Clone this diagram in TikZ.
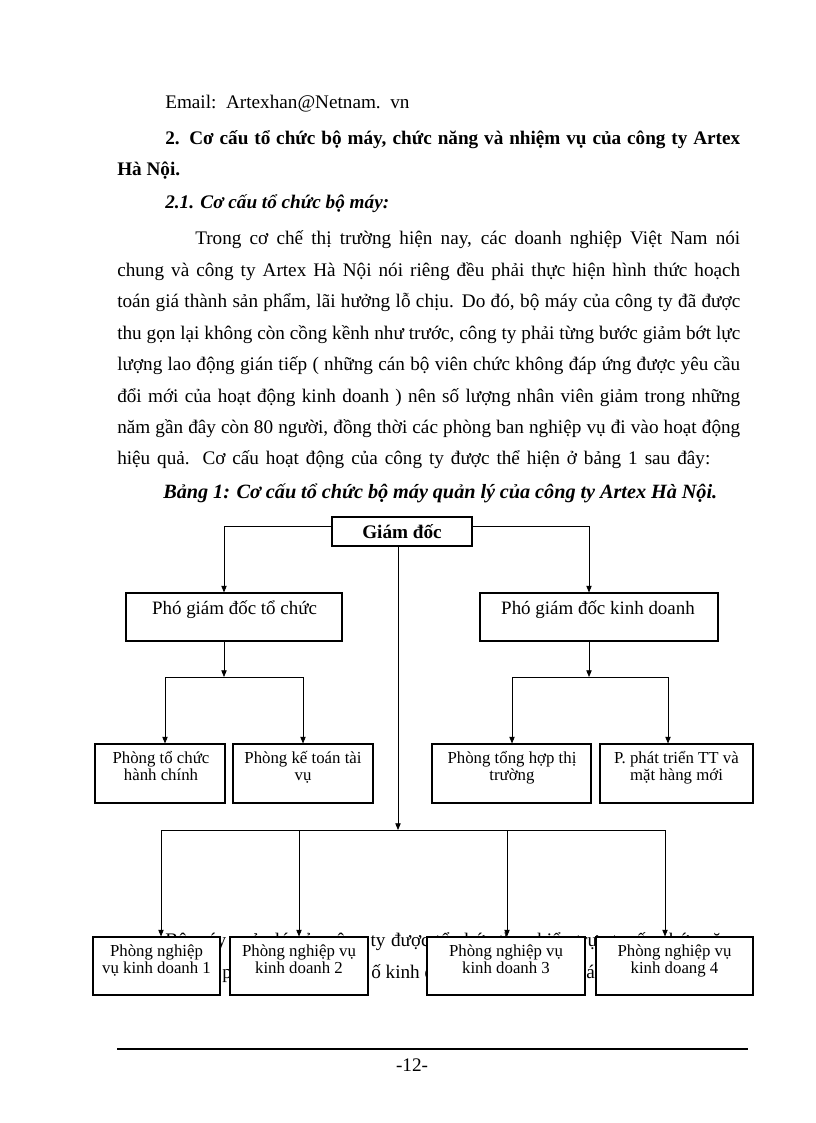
\documentclass[tikz,border=0pt]{standalone}
\usepackage{fontspec}
\setmainfont{Liberation Serif}
\usetikzlibrary{arrows.meta}
\newcommand{\bodyf}{\fontsize{14.4}{17}\selectfont}
\newcommand{\capf}{\fontsize{15.2}{17}\selectfont}
\newcommand{\boxf}{\fontsize{14.2}{15}\selectfont}
\newcommand{\smf}{\fontsize{12.6}{13}\selectfont}
\newcommand{\jl}[2]{\makebox[\dimexpr #1pt*3/4\relax][s]{#2}}
\begin{document}
\begin{tikzpicture}[x=0.75pt,y=-0.75pt,
  txt/.style={inner sep=0pt, anchor=base west, font=\bodyf},
  box/.style={draw, fill=white, line width=0.8pt, inner sep=0pt},
  ln/.style={line width=0.6pt},
  arr/.style={line width=0.6pt, -{Triangle[length=5pt,width=4pt]}},
  btxt/.style={inner sep=0pt, anchor=base, font=\boxf},
  sl/.style={inner sep=0pt, anchor=base, font=\smf}]
\useasboundingbox (0,0) rectangle (816,1123);
\fill[white] (0,0) rectangle (816,1123);

% ---- text ----
\node[txt] (t0) at (165,109) {Email:\ \ Artexhan@Netnam.\ \ vn};
\node[txt] (t1) at (165,145) {\bfseries\jl{575}{2. Cơ cấu tổ chức bộ máy, chức năng và nhiệm vụ của công ty Artex}};
\node[txt] (t2) at (117,176) {\bfseries Hà Nội.};
\node[txt] (t3) at (165,209) {\bfseries\itshape 2.1. Cơ cấu tổ chức bộ máy:};
\node[txt] (p1) at (195,244) {\jl{545}{Trong cơ chế thị trường hiện nay, các doanh nghiệp Việt Nam nói}};
\node[txt] (p2) at (117,276) {\jl{623}{chung và công ty Artex Hà Nội nói riêng đều phải thực hiện hình thức hoạch}};
\node[txt] (p3) at (117,307) {\jl{623}{toán giá thành sản phẩm, lãi hưởng lỗ chịu. Do đó, bộ máy của công ty đã được}};
\node[txt] (p4) at (117,339) {\jl{623}{thu gọn lại không còn cồng kềnh như trước, công ty phải từng bước giảm bớt lực}};
\node[txt] (p5) at (117,370) {\jl{623}{lượng lao động gián tiếp ( những cán bộ viên chức không đáp ứng được yêu cầu}};
\node[txt] (p6) at (117,402) {\jl{623}{đổi mới của hoạt động kinh doanh ) nên số lượng nhân viên giảm trong những}};
\node[txt] (p7) at (117,433) {\jl{623}{năm gần đây còn 80 người, đồng thời các phòng ban nghiệp vụ đi vào hoạt động}};
\node[txt] (p8) at (117,464) {\jl{593}{hiệu quả. Cơ cấu hoạt động của công ty được thể hiện ở bảng 1 sau đây:}};
\node[txt, font=\capf] (cap) at (163,498) {\bfseries\itshape\jl{554}{Bảng 1: Cơ cấu tổ chức bộ máy quản lý của công ty Artex Hà Nội.}};

% hidden text behind bottom boxes
\node[txt] (h1) at (165,946) {\jl{575}{Bộ máy quản lý của công ty được tổ chức theo kiểu trực tuyến chức năng}};
\node[txt] (h2) at (222,978) {p};
\node[txt] (h3) at (371,978) {ố kinh d};
\node[txt] (h4) at (586,978) {á};

% ---- boxes ----
\node[box, minimum width=140*0.75pt, minimum height=29*0.75pt, font=\bodyf\bfseries] (gd) at (402,531.5) {Giám đốc};

\node[box, minimum width=216*0.75pt, minimum height=48*0.75pt] (ptc) at (234,617) {};
\node[btxt] (ptct) at (234.5,614) {Phó giám đốc tổ chức};
\node[box, minimum width=238*0.75pt, minimum height=48*0.75pt] (pkd) at (599,617) {};
\node[btxt] (pkdt) at (598,614) {Phó giám đốc kinh doanh};

\node[box, minimum width=130*0.75pt, minimum height=59*0.75pt] (a1) at (160,773.5) {};
\node[sl] (a1a) at (161,763) {Phòng tổ chức};
\node[sl] (a1b) at (161,780) {hành chính};
\node[box, minimum width=140*0.75pt, minimum height=59*0.75pt] (a2) at (303,773.5) {};
\node[sl] (a2a) at (303,763) {Phòng kế toán tài};
\node[sl] (a2b) at (303,780) {vụ};
\node[box, minimum width=159*0.75pt, minimum height=59*0.75pt] (a3) at (511.5,773.5) {};
\node[sl] (a3a) at (512,763) {Phòng tổng hợp thị};
\node[sl] (a3b) at (512,780) {trường};
\node[box, minimum width=153*0.75pt, minimum height=59*0.75pt] (a4) at (676.5,773.5) {};
\node[sl] (a4a) at (676.5,763) {P. phát triển TT và};
\node[sl] (a4b) at (676.5,780) {mặt hàng mới};

\node[box, minimum width=127*0.75pt, minimum height=58*0.75pt] (b1) at (156.5,966) {};
\node[sl] (b1a) at (156.5,956) {Phòng nghiệp};
\node[sl] (b1b) at (156.5,973) {vụ kinh doanh 1};
\node[box, minimum width=138*0.75pt, minimum height=58*0.75pt] (b2) at (299,966) {};
\node[sl] (b2a) at (299,956) {Phòng nghiệp vụ};
\node[sl] (b2b) at (299,973) {kinh doanh 2};
\node[box, minimum width=158*0.75pt, minimum height=58*0.75pt] (b3) at (506,966) {};
\node[sl] (b3a) at (506,956) {Phòng nghiệp vụ};
\node[sl] (b3b) at (506,973) {kinh doanh 3};
\node[box, minimum width=157*0.75pt, minimum height=58*0.75pt] (b4) at (674.5,966) {};
\node[sl] (b4a) at (674.5,956) {Phòng nghiệp vụ};
\node[sl] (b4b) at (674.5,973) {kinh doang 4};

% ---- connectors ----
\coordinate (gl) at (224,526);
\coordinate (gr) at (589,526);
\draw[arr] (gl -| gd.west) -- (gl) -- (gl |- ptc.north);
\draw[arr] (gr -| gd.east) -- (gr) -- (gr |- pkd.north);

\coordinate (lbus) at (224,677);
\coordinate (rbus) at (589,677);
\draw[arr] (lbus |- ptc.south) -- (lbus);
\draw[arr] (rbus |- pkd.south) -- (rbus);
\coordinate (la) at (165,677);
\coordinate (lb) at (303,677);
\coordinate (ra) at (512,677);
\coordinate (rb) at (668,677);
\draw[ln] (la) -- (lb);
\draw[ln] (ra) -- (rb);
\draw[arr] (la) -- (la |- a1.north);
\draw[arr] (lb) -- (lb |- a2.north);
\draw[arr] (ra) -- (ra |- a3.north);
\draw[arr] (rb) -- (rb |- a4.north);

\coordinate (cbus) at (398,830);
\draw[arr] (cbus |- gd.south) -- (cbus);
\coordinate (c1) at (161,830);
\coordinate (c2) at (299,830);
\coordinate (c3) at (507,830);
\coordinate (c4) at (665,830);
\draw[ln] (c1) -- (c4);
\draw[arr] (c1) -- (c1 |- b1.north);
\draw[arr] (c2) -- (c2 |- b2.north);
\draw[arr] (c3) -- (c3 |- b3.north);
\draw[arr] (c4) -- (c4 |- b4.north);

% ---- footer ----
\coordinate (fl) at (117,1049);
\coordinate (fr) at (748,1049);
\draw[line width=0.8pt] (fl) -- (fr);
\node[txt, anchor=base] (pg) at (412,1071) {-12-};
\end{tikzpicture}
\end{document}
